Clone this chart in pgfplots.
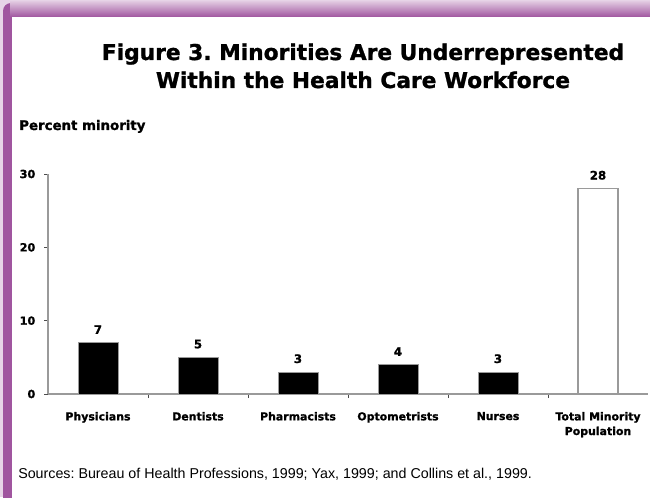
\documentclass[border=0pt]{standalone}
\usepackage{pgfplots}
\pgfplotsset{compat=1.18}
\usepackage{fontspec}
\setmainfont{Liberation Sans}
\newfontfamily\heavy{DejaVu Sans}[BoldFeatures={FakeBold=1.2}]
\definecolor{framepurple}{HTML}{A0559F}
\definecolor{axgray}{HTML}{9A9A9A}
\frenchspacing
\begin{document}
\begin{tikzpicture}
\path[use as bounding box] (0,0) rectangle (487.5pt,372.75pt);
\begin{scope}[x=0.75pt,y=-0.75pt,yshift=372.75pt]
  % frame
  \fill[framepurple!25] (0,0) rectangle (650,497);
  \fill[framepurple, rounded corners=6] (3,3) rectangle (660,520);
  \shade[top color=framepurple!35, bottom color=framepurple] (10,2) rectangle (650,17);
  \fill[white] (12,17) rectangle (660,520);
  % title
  \node[font=\heavy\bfseries\fontsize{16.3pt}{21pt}\selectfont, anchor=base] at (363,60) {Figure 3. Minorities Are Underrepresented};
  \node[font=\heavy\bfseries\fontsize{16.3pt}{21pt}\selectfont, anchor=base] at (363,88) {Within the Health Care Workforce};
  \node[font=\heavy\bfseries\fontsize{10pt}{12pt}\selectfont, anchor=base west, inner sep=0] at (19,130) {Percent minority};
  \node[font=\fontsize{10.7pt}{12pt}\selectfont, anchor=base west, inner sep=0] at (18,478) {Sources: Bureau of Health Professions, 1999; Yax, 1999; and Collins et al., 1999.};
\end{scope}
\begin{axis}[
  at={(36pt,77.25pt)}, anchor=south west,
  scale only axis, width=450pt, height=165pt,
  xmin=-0.5, xmax=5.5, ymin=0, ymax=30,
  axis x line*=bottom, axis y line*=left,
  axis line style={draw=axgray, line width=0.9pt},
  tick align=outside,
  ytick={0,10,20,30},
  major tick length=3pt,
  ytick style={draw=black!70, line width=0.5pt},
  xtick={0,1,2,3,4,5},
  xticklabels={Physicians,Dentists,Pharmacists,Optometrists,Nurses,{Total Minority\\Population}},
  major x tick style={draw=none},
  minor xtick={0.5,1.5,2.5,3.5,4.5},
  minor tick length=3pt,
  minor x tick style={draw=black!70, line width=0.5pt},
  /pgf/number format/assume math mode=true,
  xticklabel style={font=\heavy\bfseries\fontsize{8.2pt}{11pt}\selectfont, align=center, yshift=-7pt},
  yticklabel style={font=\heavy\bfseries\fontsize{8.4pt}{10pt}\selectfont, xshift=-3pt},
  nodes near coords,
  nodes near coords style={font=\heavy\bfseries\fontsize{8.8pt}{10pt}\selectfont, anchor=south, yshift=3pt},
  clip=false,
]
\addplot[ybar, bar width=30pt, fill=black, draw=axgray, line width=0.6pt] coordinates {(0,7) (1,5) (2,3) (3,4) (4,3)};
\addplot[ybar, bar width=30pt, fill=white, draw=axgray, line width=0.8pt] coordinates {(5,28)};
\end{axis}
\end{tikzpicture}
\end{document}
